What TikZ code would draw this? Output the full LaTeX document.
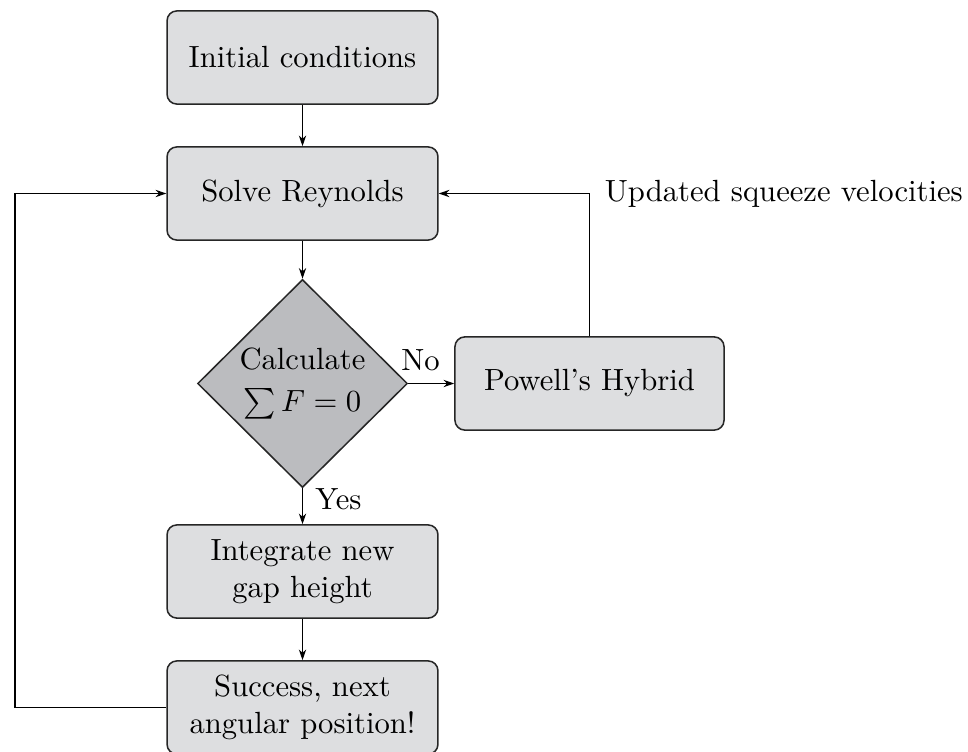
\documentclass[tikz,border=0pt]{standalone}
\usetikzlibrary{shapes.geometric,arrows.meta}
\definecolor{boxfill}{RGB}{221,222,224}
\definecolor{diafill}{RGB}{187,188,191}
\begin{document}
\begin{tikzpicture}[x=0.3263pt,y=-0.3263pt,
  flowbox/.style={draw=black!85, line width=0.5pt, fill=boxfill, rounded corners=3.2pt,
    minimum width=88.4pt, minimum height=30.4pt, align=center, inner sep=2pt},
  decision/.style={draw=black!85, line width=0.5pt, fill=diafill, shape=diamond,
    minimum width=68.5pt, minimum height=67.9pt, inner sep=0pt, align=center},
  arr/.style={line width=0.4pt, -{Stealth[length=3.5pt,width=2.4pt]}},
  conn/.style={line width=0.4pt}]
\useasboundingbox (0,0) rectangle (968,751);
\node[flowbox] (ini) at (302.5,57.5) {Initial conditions};
\node[flowbox] (sol) at (302.5,193.5) {Solve Reynolds};
\node[decision] (dia) at (302.5,383.5) {Calculate\\[1.5pt]$\sum F=0$};
\node[flowbox, minimum width=87.8pt] (pow) at (589.5,383.5) {Powell's Hybrid};
\node[flowbox] (int) at (302.5,571.5) {Integrate new\\gap height};
\node[flowbox] (suc) at (302.5,707.5) {Success, next\\angular position!};
\coordinate (lft) at (15,0);
\draw[arr] (ini) -- (sol);
\draw[arr] (sol) -- (dia);
\draw[arr] (dia.east) -- node[pos=0.27, above, inner sep=4pt] (no) {No} (pow.west);
\draw[arr] (dia.south) -- node[pos=0, anchor=north west, inner sep=0pt, xshift=4pt] (yes) {Yes} (int.north);
\draw[arr] (int) -- (suc);
\draw[arr] (suc.west) -- (suc.west -| lft) |- (sol.west);
\draw[arr] (pow.north) |- (sol.east);
\node[anchor=west, xshift=1.5pt] (upd) at (pow.north |- sol.east) {Updated squeeze velocities};
\end{tikzpicture}
\end{document}
